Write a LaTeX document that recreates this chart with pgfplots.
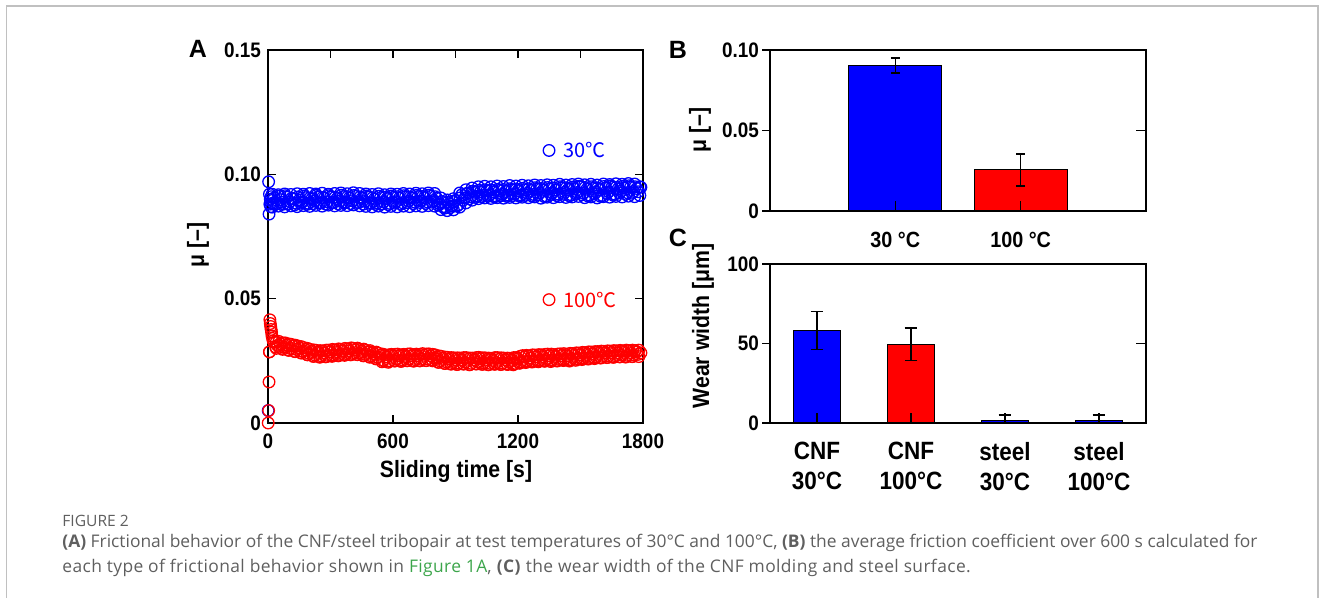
\documentclass[border=0pt]{standalone}
\usepackage{pgfplots}
\pgfplotsset{compat=1.18}
\usepackage{fontspec}
\setmainfont{Liberation Sans}
\newfontfamily\cf{Liberation Sans}[FakeStretch=0.9]
\newfontfamily\capf{Open Sans}
\newfontfamily\capfs{Open Sans}[LetterSpace=2.2]
\newfontfamily\cjk{Noto Sans CJK JP}
\definecolor{pblue}{RGB}{0,0,255}
\definecolor{pred}{RGB}{255,0,0}
\definecolor{capgray}{RGB}{95,95,95}
\definecolor{figgreen}{RGB}{60,165,75}
\definecolor{framegray}{RGB}{192,192,192}

\pgfplotsset{
  panel/.style={scale only axis, anchor=south west,
    axis line style={line width=1.4pt},
    every tick/.style={black, line width=0.7pt},
    major tick length=4pt,
    tick label style={font=\cf\bfseries\fontsize{10.5}{12}\selectfont},
  },
  overlay/.style={scale only axis, anchor=south west,
    axis line style={draw=none},
    every tick/.style={black, line width=0.7pt},
    major tick length=4pt, tick align=inside,
    xticklabels={}, yticklabels={},
  },
  bm/.style={only marks, mark=o, mark size=2.9pt, mark options={pblue, line width=0.65pt}},
  rm/.style={only marks, mark=o, mark size=2.9pt, mark options={pred, line width=0.65pt}},
}

\begin{document}
\begin{tikzpicture}
\useasboundingbox (0,0) rectangle (665pt,299pt);
% frame
\draw[framegray, line width=0.7pt] (3.2pt,0) -- (3.2pt,296pt) -- (659pt,296pt) -- (659pt,0);

% ---------------- Panel A ----------------
\begin{axis}[panel, at={(134pt,87.5pt)}, width=187.5pt, height=186.5pt,
  xmin=0, xmax=1800, ymin=0, ymax=0.15,
  xtick={0,600,1200,1800}, xticklabels={0,600,1200,1800}, xtick pos=bottom,
  ytick={0,0.05,0.1,0.15}, yticklabels={0,0.05,0.10,0.15},
  ytick pos=both, yticklabel pos=left, tick align=inside,
  xticklabel style={yshift=-2pt},
  clip=false]
% 30 C, upper edge
\addplot[bm] coordinates {
(20,0.0920)(50,0.0918)(80,0.0921)(110,0.0919)(140,0.0922)(170,0.0920)(200,0.0923)(230,0.0921)(260,0.0924)(290,0.0920)
(320,0.0923)(350,0.0925)(380,0.0922)(410,0.0926)(440,0.0923)(470,0.0921)(500,0.0919)(530,0.0922)(560,0.0918)(590,0.0921)
(620,0.0920)(650,0.0923)(680,0.0921)(710,0.0924)(740,0.0922)(770,0.0925)(800,0.0923)(830,0.0905)(860,0.0897)(890,0.0902)
(920,0.0925)(950,0.0938)(980,0.0945)(1010,0.0950)(1040,0.0952)(1070,0.0950)(1100,0.0953)(1130,0.0951)(1160,0.0955)(1190,0.0953)
(1220,0.0956)(1250,0.0954)(1280,0.0957)(1310,0.0955)(1340,0.0958)(1370,0.0956)(1400,0.0960)(1430,0.0957)(1460,0.0959)(1490,0.0961)
(1520,0.0958)(1550,0.0960)(1580,0.0957)(1610,0.0961)(1640,0.0959)(1670,0.0962)(1700,0.0960)(1730,0.0963)(1760,0.0961)
};
% 30 C, lower edge
\addplot[bm] coordinates {
(20,0.0868)(50,0.0872)(80,0.0869)(110,0.0873)(140,0.0870)(170,0.0874)(200,0.0871)(230,0.0875)(260,0.0872)(290,0.0876)
(320,0.0873)(350,0.0875)(380,0.0874)(410,0.0877)(440,0.0873)(470,0.0871)(500,0.0869)(530,0.0872)(560,0.0868)(590,0.0871)
(620,0.0869)(650,0.0872)(680,0.0870)(710,0.0873)(740,0.0871)(770,0.0874)(800,0.0872)(830,0.0858)(860,0.0854)(890,0.0857)
(920,0.0868)(950,0.0885)(980,0.0896)(1010,0.0902)(1040,0.0905)(1070,0.0903)(1100,0.0906)(1130,0.0904)(1160,0.0907)(1190,0.0905)
(1220,0.0908)(1250,0.0906)(1280,0.0909)(1310,0.0904)(1340,0.0908)(1370,0.0906)(1400,0.0910)(1430,0.0907)(1460,0.0909)(1490,0.0911)
(1520,0.0906)(1550,0.0909)(1580,0.0905)(1610,0.0910)(1640,0.0908)(1670,0.0911)(1700,0.0909)(1730,0.0912)(1760,0.0910)(1785,0.0915)
};
% 30 C, set 1
\addplot[bm] coordinates {
(1,0.005)(5,0.084)(7,0.092)(9,0.088)(11,0.090)(13,0.087)(15,0.091)(20,0.0895)(25,0.0885)
(30,0.0905)(45,0.0882)(60,0.0898)(75,0.0880)(90,0.0908)(105,0.0890)(120,0.0902)(135,0.0884)(150,0.0897)(165,0.0889)
(180,0.0906)(195,0.0883)(210,0.0901)(225,0.0893)(240,0.0908)(255,0.0886)(270,0.0904)(285,0.0890)(300,0.0909)(315,0.0887)
(330,0.0902)(345,0.0892)(360,0.0910)(375,0.0888)(390,0.0905)(405,0.0894)(420,0.0911)(435,0.0886)(450,0.0903)(465,0.0891)
(480,0.0908)(495,0.0885)(510,0.0900)(525,0.0884)(540,0.0906)(555,0.0889)(570,0.0902)(585,0.0883)(600,0.0907)(615,0.0890)
(630,0.0904)(645,0.0886)(660,0.0909)(675,0.0892)(690,0.0905)(705,0.0888)(720,0.0910)(735,0.0893)(750,0.0906)(765,0.0889)
(780,0.0911)(795,0.0895)(810,0.0904)(825,0.0880)(840,0.0870)(855,0.0866)(870,0.0882)(885,0.0873)(900,0.0895)(915,0.0878)
(930,0.0918)(945,0.0905)(960,0.0925)(975,0.0910)(990,0.0928)(1005,0.0912)(1020,0.0930)(1035,0.0915)(1050,0.0933)(1065,0.0918)
(1080,0.0929)(1095,0.0913)(1110,0.0935)(1125,0.0920)(1140,0.0931)(1155,0.0916)(1170,0.0937)(1185,0.0922)(1200,0.0934)(1215,0.0917)
(1230,0.0938)(1245,0.0924)(1260,0.0935)(1275,0.0919)(1290,0.0940)(1305,0.0925)(1320,0.0936)(1335,0.0913)(1350,0.0941)(1365,0.0926)
(1380,0.0937)(1395,0.0920)(1410,0.0945)(1425,0.0928)(1440,0.0939)(1455,0.0918)(1470,0.0942)(1485,0.0927)(1500,0.0950)(1515,0.0924)
(1530,0.0940)(1545,0.0916)(1560,0.0943)(1575,0.0929)(1590,0.0938)(1605,0.0915)(1620,0.0944)(1635,0.0930)(1650,0.0947)(1665,0.0920)
(1680,0.0941)(1695,0.0932)(1710,0.0946)(1725,0.0926)(1740,0.0948)(1755,0.0931)(1770,0.0943)(1785,0.0950)
};
% 30 C, set 2
\addplot[bm] coordinates {
(37,0.0880)(52,0.0912)(67,0.0888)(82,0.0914)(97,0.0881)(112,0.0903)(127,0.0877)(142,0.0909)(157,0.0884)(172,0.0913)
(187,0.0879)(202,0.0905)(217,0.0882)(232,0.0915)(247,0.0884)(262,0.0907)(277,0.0880)(292,0.0914)(307,0.0886)(322,0.0908)
(337,0.0881)(352,0.0916)(367,0.0885)(382,0.0910)(397,0.0882)(412,0.0915)(427,0.0887)(442,0.0909)(457,0.0880)(472,0.0913)
(487,0.0883)(502,0.0906)(517,0.0879)(532,0.0912)(547,0.0881)(562,0.0908)(577,0.0878)(592,0.0913)(607,0.0884)(622,0.0910)
(637,0.0880)(652,0.0914)(667,0.0886)(682,0.0909)(697,0.0882)(712,0.0915)(727,0.0887)(742,0.0911)(757,0.0883)(772,0.0916)
(787,0.0888)(802,0.0910)(817,0.0876)(832,0.0890)(847,0.0864)(862,0.0888)(877,0.0867)(892,0.0890)(907,0.0872)(922,0.0905)
(937,0.0896)(952,0.0922)(967,0.0902)(982,0.0932)(997,0.0908)(1012,0.0936)(1027,0.0910)(1042,0.0938)(1057,0.0912)(1072,0.0937)
(1087,0.0909)(1102,0.0940)(1117,0.0914)(1132,0.0939)(1147,0.0911)(1162,0.0942)(1177,0.0915)(1192,0.0940)(1207,0.0912)(1222,0.0944)
(1237,0.0916)(1252,0.0942)(1267,0.0913)(1282,0.0946)(1297,0.0918)(1312,0.0943)(1327,0.0910)(1342,0.0947)(1357,0.0919)(1372,0.0945)
(1387,0.0914)(1402,0.0950)(1417,0.0920)(1432,0.0946)(1447,0.0913)(1462,0.0949)(1477,0.0921)(1492,0.0952)(1507,0.0918)(1522,0.0947)
(1537,0.0912)(1552,0.0950)(1567,0.0922)(1582,0.0945)(1597,0.0911)(1612,0.0951)(1627,0.0923)(1642,0.0953)(1657,0.0916)(1672,0.0948)
(1687,0.0925)(1702,0.0952)(1717,0.0920)(1732,0.0954)(1747,0.0924)(1762,0.0950)(1777,0.0930)
};
% 100 C, upper edge
\addplot[rm] coordinates {
(40,0.0326)(70,0.0322)(100,0.0318)(130,0.0313)(160,0.0307)(190,0.0300)(220,0.0294)(250,0.0291)(280,0.0293)(310,0.0296)
(340,0.0298)(370,0.0300)(400,0.0302)(430,0.0301)(460,0.0297)(490,0.0291)(520,0.0285)(550,0.0277)(580,0.0274)(610,0.0276)
(640,0.0274)(670,0.0277)(700,0.0275)(730,0.0276)(760,0.0277)(790,0.0276)(820,0.0270)(850,0.0265)(880,0.0263)(910,0.0262)
(940,0.0263)(970,0.0261)(1000,0.0263)(1030,0.0262)(1060,0.0261)(1090,0.0263)(1120,0.0262)(1150,0.0261)(1180,0.0263)(1210,0.0268)
(1240,0.0272)(1270,0.0274)(1300,0.0275)(1330,0.0276)(1360,0.0277)(1390,0.0277)(1420,0.0279)(1450,0.0280)(1480,0.0282)(1510,0.0284)
(1540,0.0286)(1570,0.0287)(1600,0.0289)(1630,0.0290)(1660,0.0291)(1690,0.0292)(1720,0.0293)(1750,0.0293)(1780,0.0293)
};
% 100 C, lower edge
\addplot[rm] coordinates {
(40,0.0300)(70,0.0296)(100,0.0292)(130,0.0287)(160,0.0281)(190,0.0274)(220,0.0268)(250,0.0265)(280,0.0267)(310,0.0270)
(340,0.0272)(370,0.0274)(400,0.0276)(430,0.0275)(460,0.0271)(490,0.0265)(520,0.0259)(550,0.0251)(580,0.0248)(610,0.0250)
(640,0.0248)(670,0.0251)(700,0.0249)(730,0.0250)(760,0.0251)(790,0.0250)(820,0.0244)(850,0.0239)(880,0.0237)(910,0.0236)
(940,0.0237)(970,0.0235)(1000,0.0237)(1030,0.0236)(1060,0.0235)(1090,0.0237)(1120,0.0236)(1150,0.0235)(1180,0.0237)(1210,0.0242)
(1240,0.0246)(1270,0.0248)(1300,0.0249)(1330,0.0250)(1360,0.0251)(1390,0.0251)(1420,0.0253)(1450,0.0254)(1480,0.0256)(1510,0.0258)
(1540,0.0260)(1570,0.0261)(1600,0.0263)(1630,0.0264)(1660,0.0265)(1690,0.0266)(1720,0.0267)(1750,0.0267)(1780,0.0267)
};
% 100 C, set 1
\addplot[rm] coordinates {
(1,0.000)(3,0.005)(5,0.0165)(7,0.0286)(9,0.0415)(11,0.0400)(13,0.0388)(15,0.0376)(17,0.0365)(19,0.0350)(22,0.0340)(25,0.0330)
(30,0.0325)(45,0.0312)(60,0.0318)(75,0.0305)(90,0.0314)(105,0.0300)(120,0.0310)(135,0.0296)(150,0.0302)(165,0.0288)
(180,0.0295)(195,0.0280)(210,0.0288)(225,0.0273)(240,0.0284)(255,0.0270)(270,0.0282)(285,0.0272)(300,0.0286)(315,0.0274)
(330,0.0287)(345,0.0276)(360,0.0289)(375,0.0279)(390,0.0291)(405,0.0280)(420,0.0293)(435,0.0281)(450,0.0288)(465,0.0276)
(480,0.0284)(495,0.0270)(510,0.0278)(525,0.0264)(540,0.0272)(555,0.0252)(570,0.0266)(585,0.0250)(600,0.0268)(615,0.0256)
(630,0.0270)(645,0.0254)(660,0.0268)(675,0.0257)(690,0.0271)(705,0.0255)(720,0.0269)(735,0.0256)(750,0.0272)(765,0.0258)
(780,0.0270)(795,0.0262)(810,0.0266)(825,0.0250)(840,0.0260)(855,0.0246)(870,0.0257)(885,0.0243)(900,0.0255)(915,0.0241)
(930,0.0254)(945,0.0244)(960,0.0256)(975,0.0240)(990,0.0253)(1005,0.0245)(1020,0.0258)(1035,0.0242)(1050,0.0255)(1065,0.0240)
(1080,0.0252)(1095,0.0243)(1110,0.0256)(1125,0.0241)(1140,0.0254)(1155,0.0244)(1170,0.0252)(1185,0.0240)(1200,0.0258)(1215,0.0246)
(1230,0.0265)(1245,0.0249)(1260,0.0262)(1275,0.0251)(1290,0.0266)(1305,0.0253)(1320,0.0267)(1335,0.0255)(1350,0.0270)(1365,0.0254)
(1380,0.0268)(1395,0.0256)(1410,0.0271)(1425,0.0258)(1440,0.0269)(1455,0.0255)(1470,0.0272)(1485,0.0259)(1500,0.0274)(1515,0.0262)
(1530,0.0276)(1545,0.0264)(1560,0.0278)(1575,0.0266)(1590,0.0280)(1605,0.0268)(1620,0.0281)(1635,0.0270)(1650,0.0283)(1665,0.0271)
(1680,0.0282)(1695,0.0273)(1710,0.0284)(1725,0.0272)(1740,0.0283)(1755,0.0274)(1770,0.0285)
};
% 100 C, set 2
\addplot[rm] coordinates {
(37,0.0305)(52,0.0328)(67,0.0300)(82,0.0322)(97,0.0293)(112,0.0316)(127,0.0288)(142,0.0310)(157,0.0283)(172,0.0303)
(187,0.0275)(202,0.0296)(217,0.0268)(232,0.0292)(247,0.0265)(262,0.0290)(277,0.0266)(292,0.0293)(307,0.0268)(322,0.0294)
(337,0.0270)(352,0.0296)(367,0.0272)(382,0.0298)(397,0.0274)(412,0.0300)(427,0.0275)(442,0.0296)(457,0.0270)(472,0.0292)
(487,0.0265)(502,0.0285)(517,0.0258)(532,0.0280)(547,0.0246)(562,0.0274)(577,0.0244)(592,0.0276)(607,0.0249)(622,0.0277)
(637,0.0248)(652,0.0276)(667,0.0250)(682,0.0278)(697,0.0249)(712,0.0277)(727,0.0250)(742,0.0279)(757,0.0251)(772,0.0278)
(787,0.0254)(802,0.0274)(817,0.0244)(832,0.0268)(847,0.0240)(862,0.0264)(877,0.0237)(892,0.0262)(907,0.0235)(922,0.0261)
(937,0.0237)(952,0.0263)(967,0.0234)(982,0.0261)(997,0.0238)(1012,0.0264)(1027,0.0236)(1042,0.0262)(1057,0.0234)(1072,0.0260)
(1087,0.0236)(1102,0.0263)(1117,0.0235)(1132,0.0261)(1147,0.0237)(1162,0.0260)(1177,0.0234)(1192,0.0263)(1207,0.0240)(1222,0.0271)
(1237,0.0243)(1252,0.0270)(1267,0.0245)(1282,0.0273)(1297,0.0246)(1312,0.0274)(1327,0.0248)(1342,0.0277)(1357,0.0247)(1372,0.0275)
(1387,0.0249)(1402,0.0278)(1417,0.0251)(1432,0.0276)(1447,0.0249)(1462,0.0279)(1477,0.0252)(1492,0.0281)(1507,0.0255)(1522,0.0283)
(1537,0.0257)(1552,0.0285)(1567,0.0259)(1582,0.0287)(1597,0.0261)(1612,0.0288)(1627,0.0263)(1642,0.0289)(1657,0.0264)(1672,0.0290)
(1687,0.0266)(1702,0.0290)(1717,0.0265)(1732,0.0291)(1747,0.0267)(1762,0.0291)(1777,0.0276)
};
% first and last points, drawn on top with white inside
\addplot[bm, mark options={pblue, line width=0.65pt, fill=white}] coordinates {(3,0.097)(1790,0.0948)};
\addplot[rm, mark options={pred, line width=0.65pt, fill=white}] coordinates {(7,0.0286)(1790,0.0282)};
% legend-like markers
\addplot[bm] coordinates {(1349,0.1096)};
\addplot[rm] coordinates {(1349,0.0496)};
\node[anchor=west, inner sep=0, text=pblue, font=\cjk\fontsize{10}{12}\selectfont] at (axis cs:1416,0.1096) {30℃};
\node[anchor=west, inner sep=0, text=pred, font=\cjk\fontsize{10}{12}\selectfont] at (axis cs:1416,0.0496) {100℃};
\end{axis}
\begin{axis}[overlay, at={(134pt,87.5pt)}, width=187.5pt, height=186.5pt,
  xmin=0, xmax=1800, ymin=0, ymax=0.15,
  xtick={300,600,900,1200,1500}, xtick pos=top, ytick=\empty]
\addplot[draw=none] coordinates {(0,0)};
\end{axis}

% ---------------- Panel B ----------------
\begin{axis}[panel, at={(385pt,193.5pt)}, width=188pt, height=80.5pt,
  xmin=0, xmax=3, ymin=0, ymax=0.1,
  xtick={1,2}, xticklabels={30 °C,100 °C}, xtick pos=bottom,
  xtick style={draw=none},
  xticklabel style={font=\cf\bfseries\fontsize{11}{13}\selectfont, yshift=-3pt},
  ytick={0,0.05,0.1}, yticklabels={0,0.05,0.10}, ytick pos=left, tick align=outside,
  yticklabel style={xshift=2pt}]
\addplot[ybar, bar width=0.74, bar shift=0pt, fill=pblue, draw=black, line width=0.5pt,
  error bars/.cd, y dir=both, y explicit,
  error bar style={line width=0.8pt, black},
  error mark options={rotate=90, mark size=2.2pt, line width=0.8pt, black}]
  coordinates {(1,0.0904) +- (0,0.0047)};
\addplot[ybar, bar width=0.74, bar shift=0pt, fill=pred, draw=black, line width=0.5pt,
  error bars/.cd, y dir=both, y explicit,
  error bar style={line width=0.8pt, black},
  error mark options={rotate=90, mark size=2.2pt, line width=0.8pt, black}]
  coordinates {(2,0.0255) +- (0,0.0100)};
\end{axis}
\begin{axis}[overlay, at={(385pt,193.5pt)}, width=188pt, height=80.5pt,
  xmin=0, xmax=3, ymin=0, ymax=0.1, major tick length=5pt,
  xtick={1,2}, xtick pos=bottom, ytick={0.05}, ytick pos=right]
\addplot[draw=none] coordinates {(0,0)};
\end{axis}

% ---------------- Panel C ----------------
\begin{axis}[panel, at={(385pt,87.5pt)}, width=188pt, height=79.5pt,
  xmin=0.5, xmax=4.5, ymin=0, ymax=100,
  xtick={1,2,3,4}, xticklabels={CNF\\30°C,CNF\\100°C,steel\\30°C,steel\\100°C}, xtick pos=bottom,
  xtick style={draw=none},
  xticklabel style={font=\cf\bfseries\fontsize{12.5}{15}\selectfont, align=center, yshift=-2pt},
  ytick={0,50,100}, yticklabels={0,50,100}, ytick pos=left, tick align=outside,
  yticklabel style={xshift=2pt}]
\addplot[ybar, bar width=0.5, bar shift=0pt, fill=pblue, draw=black, line width=0.5pt,
  error bars/.cd, y dir=both, y explicit,
  error bar style={line width=0.8pt, black},
  error mark options={rotate=90, mark size=3.2pt, line width=0.8pt, black}]
  coordinates {(1,58.1) +- (0,11.9) (3,1.6) +- (0,3.4) (4,1.6) +- (0,3.4)};
\addplot[ybar, bar width=0.5, bar shift=0pt, fill=pred, draw=black, line width=0.5pt,
  error bars/.cd, y dir=both, y explicit,
  error bar style={line width=0.8pt, black},
  error mark options={rotate=90, mark size=3.2pt, line width=0.8pt, black}]
  coordinates {(2,49.6) +- (0,10.3)};
\end{axis}
\begin{axis}[overlay, at={(385pt,87.5pt)}, width=188pt, height=79.5pt,
  xmin=0.5, xmax=4.5, ymin=0, ymax=100, major tick length=5pt,
  xtick={1,2,3,4}, xtick pos=bottom, ytick={50}, ytick pos=right]
\addplot[draw=none] coordinates {(1,0)};
\end{axis}

% ---------------- labels ----------------
\node[font=\bfseries\fontsize{12.5}{14}\selectfont] at (99pt,274.5pt) {A};
\node[font=\bfseries\fontsize{12.5}{14}\selectfont] at (339pt,274pt) {B};
\node[font=\bfseries\fontsize{12.5}{14}\selectfont] at (339pt,180pt) {C};
\node[rotate=90, font=\cf\bfseries\fontsize{11.8}{14}\selectfont] at (99pt,176.5pt) {μ [–]};
\node[font=\cf\bfseries\fontsize{11.8}{14}\selectfont] at (228pt,63.5pt) {Sliding time [s]};
\node[rotate=90, font=\cf\bfseries\fontsize{11.8}{14}\selectfont] at (350pt,234pt) {μ [–]};
\node[rotate=90, font=\cf\bfseries\fontsize{11.8}{14}\selectfont] at (351.5pt,136pt) {Wear width [μm]};

% ---------------- caption ----------------
\node[anchor=base west, inner sep=0, text=capgray, font=\capf\fontsize{7.8}{9}\selectfont] at (31pt,35.5pt) {FIGURE 2};
\node[anchor=base west, inner sep=0, text=capgray, font=\capf\fontsize{8.7}{10}\selectfont] at (31pt,25pt)
  {\textbf{(A)} Frictional behavior of the CNF/steel tribopair at test temperatures of 30°C and 100°C, \textbf{(B)} the average friction coefficient over 600 s calculated for};
\node[anchor=base west, inner sep=0, text=capgray, font=\capfs\fontsize{8.7}{10}\selectfont] at (31pt,12.5pt)
  {each type of frictional behavior shown in \textcolor{figgreen}{Figure 1A}, \textbf{(C)} the wear width of the CNF molding and steel surface.};
\end{tikzpicture}
\end{document}
